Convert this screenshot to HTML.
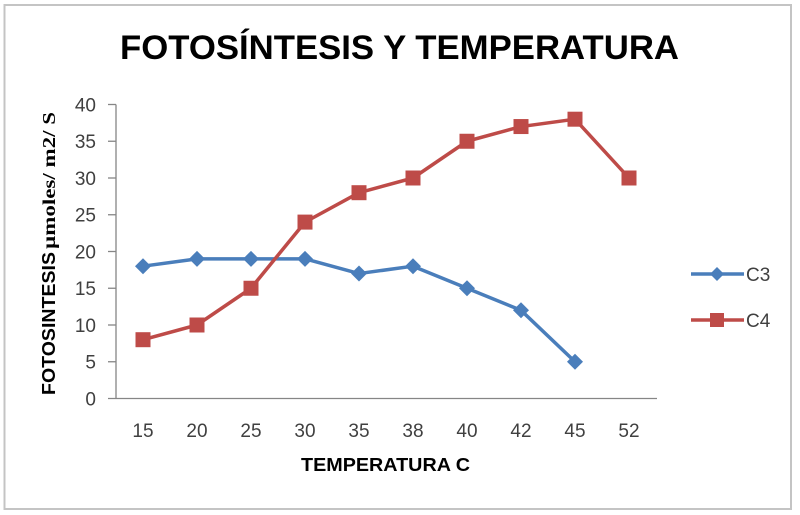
<!DOCTYPE html>
<html><head><meta charset="utf-8">
<style>
html,body{margin:0;padding:0;background:#fff;}
svg{display:block;}
</style></head>
<body>
<svg width="800" height="515" viewBox="0 0 800 515" xmlns="http://www.w3.org/2000/svg">
<rect x="0" y="0" width="800" height="515" fill="#fff"/>
<rect x="4.5" y="5" width="786.5" height="504" fill="#fff" stroke="#c4c4c4" stroke-width="2"/>

<text x="120" y="59" font-family="Liberation Sans, sans-serif" font-weight="bold" font-size="34" fill="#000" textLength="559" lengthAdjust="spacingAndGlyphs">FOTOSÍNTESIS Y TEMPERATURA</text>

<!-- axes -->
<g stroke="#868686" stroke-width="1.3" fill="none">
<line x1="116" y1="104.5" x2="116" y2="398.5"/>
<line x1="108" y1="398.5" x2="657" y2="398.5"/>
<line x1="108" y1="104.5" x2="116" y2="104.5"/>
<line x1="108" y1="141.25" x2="116" y2="141.25"/>
<line x1="108" y1="178" x2="116" y2="178"/>
<line x1="108" y1="214.75" x2="116" y2="214.75"/>
<line x1="108" y1="251.5" x2="116" y2="251.5"/>
<line x1="108" y1="288.25" x2="116" y2="288.25"/>
<line x1="108" y1="325" x2="116" y2="325"/>
<line x1="108" y1="361.75" x2="116" y2="361.75"/>
</g>

<g font-family="Liberation Sans, sans-serif" font-size="19" fill="#404040" text-anchor="end">
<text x="96" y="111.5">40</text>
<text x="96" y="148.2">35</text>
<text x="96" y="185">30</text>
<text x="96" y="221.7">25</text>
<text x="96" y="258.5">20</text>
<text x="96" y="295.2">15</text>
<text x="96" y="332">10</text>
<text x="96" y="368.7">5</text>
<text x="96" y="405.5">0</text>
</g>

<g font-family="Liberation Sans, sans-serif" font-size="19" fill="#404040" text-anchor="middle">
<text x="143" y="437">15</text>
<text x="197" y="437">20</text>
<text x="251" y="437">25</text>
<text x="305" y="437">30</text>
<text x="359" y="437">35</text>
<text x="413" y="437">38</text>
<text x="467" y="437">40</text>
<text x="521" y="437">42</text>
<text x="575" y="437">45</text>
<text x="629" y="437">52</text>
</g>

<text x="301" y="471" font-family="Liberation Sans, sans-serif" font-weight="bold" font-size="18" fill="#000" textLength="169" lengthAdjust="spacingAndGlyphs">TEMPERATURA C</text>

<g transform="translate(55,395) rotate(-90)">
<text x="0" y="0" font-family="Liberation Sans, sans-serif" font-weight="bold" font-size="18" fill="#000" textLength="143" lengthAdjust="spacingAndGlyphs">FOTOSINTESIS</text>
<text x="146" y="0" font-family="Liberation Serif, serif" font-weight="bold" font-size="18" fill="#000" textLength="137" lengthAdjust="spacingAndGlyphs">µmoles/ m2/ S</text>
</g>

<!-- C3 series -->
<polyline fill="none" stroke="#4a7ebb" stroke-width="3.5" stroke-linejoin="round"
 points="143,266.2 197,258.85 251,258.85 305,258.85 359,273.55 413,266.2 467,288.25 521,310.3 575,361.75"/>
<g fill="#4a7ebb">
<polygon points="143,258.2 151,266.2 143,274.2 135,266.2"/>
<polygon points="197,250.85 205,258.85 197,266.85 189,258.85"/>
<polygon points="251,250.85 259,258.85 251,266.85 243,258.85"/>
<polygon points="305,250.85 313,258.85 305,266.85 297,258.85"/>
<polygon points="359,265.55 367,273.55 359,281.55 351,273.55"/>
<polygon points="413,258.2 421,266.2 413,274.2 405,266.2"/>
<polygon points="467,280.25 475,288.25 467,296.25 459,288.25"/>
<polygon points="521,302.3 529,310.3 521,318.3 513,310.3"/>
<polygon points="575,353.75 583,361.75 575,369.75 567,361.75"/>
</g>

<!-- C4 series -->
<polyline fill="none" stroke="#be4b48" stroke-width="3.5" stroke-linejoin="round"
 points="143,339.7 197,325 251,288.25 305,222.1 359,192.7 413,178 467,141.25 521,126.55 575,119.2 629,178"/>
<g fill="#be4b48">
<rect x="135.5" y="332.2" width="15" height="15"/>
<rect x="189.5" y="317.5" width="15" height="15"/>
<rect x="243.5" y="280.75" width="15" height="15"/>
<rect x="297.5" y="214.6" width="15" height="15"/>
<rect x="351.5" y="185.2" width="15" height="15"/>
<rect x="405.5" y="170.5" width="15" height="15"/>
<rect x="459.5" y="133.75" width="15" height="15"/>
<rect x="513.5" y="119.05" width="15" height="15"/>
<rect x="567.5" y="111.7" width="15" height="15"/>
<rect x="621.5" y="170.5" width="15" height="15"/>
</g>

<!-- legend -->
<line x1="691" y1="274" x2="744" y2="274" stroke="#4a7ebb" stroke-width="3.5"/>
<polygon points="717,267 724,274 717,281 710,274" fill="#4a7ebb"/>
<text x="746" y="281" font-family="Liberation Sans, sans-serif" font-size="19" fill="#404040">C3</text>
<line x1="691" y1="320" x2="744" y2="320" stroke="#be4b48" stroke-width="3.5"/>
<rect x="710" y="313" width="14" height="14" fill="#be4b48"/>
<text x="746" y="327" font-family="Liberation Sans, sans-serif" font-size="19" fill="#404040">C4</text>
</svg>
</body></html>
